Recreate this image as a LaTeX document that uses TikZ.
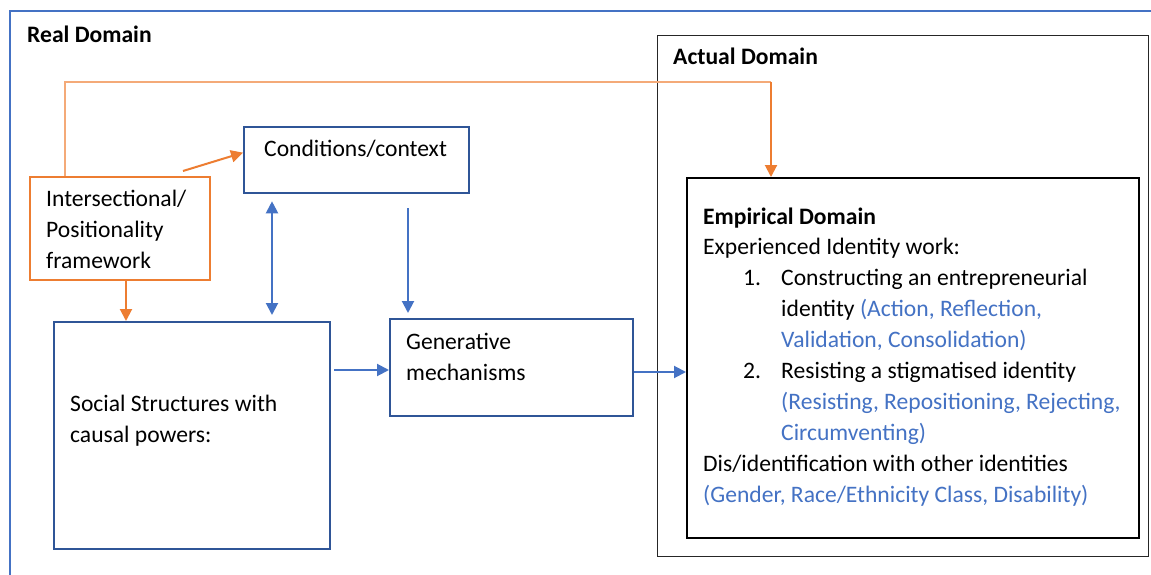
\documentclass[tikz,border=0pt]{standalone}
\usepackage{fontspec}
\setmainfont{Carlito}
\usetikzlibrary{arrows.meta,calc}
\definecolor{boxblue}{RGB}{47,85,151}
\definecolor{arrowblue}{RGB}{68,114,196}
\definecolor{frameblue}{RGB}{68,114,196}
\definecolor{orangeline}{RGB}{237,125,49}
\definecolor{paleorange}{RGB}{244,170,120}
\definecolor{txtblue}{RGB}{68,114,196}
\newcommand\bodyfont{\fontsize{23.6}{31}\selectfont}

\begin{document}
\begin{tikzpicture}[x=1pt,y=-1pt,
  bluebox/.style={draw=boxblue, line width=2.3pt, inner sep=0pt, anchor=north west},
  orangebox/.style={draw=orangeline, line width=2.1pt, inner sep=0pt, anchor=north west},
  domainbox/.style={draw=black!85, line width=1pt, inner sep=0pt, anchor=north west},
  empbox/.style={draw=black, line width=2.3pt, inner sep=0pt, anchor=north west},
  textblock/.style={inner sep=0pt, anchor=north west, align=left, font=\bodyfont},
  oneline/.style={inner sep=0pt, anchor=base west, font=\bodyfont},
  headline/.style={inner sep=0pt, anchor=base west, font={\bodyfont\bfseries}},
  bluearrow/.style={draw=arrowblue, line width=2pt, -{Triangle[length=12pt,width=12pt]}},
  bluedouble/.style={draw=arrowblue, line width=2pt, {Triangle[length=12pt,width=12pt]}-{Triangle[length=12pt,width=12pt]}},
  orangearrow/.style={draw=orangeline, line width=2pt, -{Triangle[length=12pt,width=12pt]}},
  paleline/.style={draw=paleorange, line width=1.2pt}
]
\useasboundingbox (0,0) rectangle (1151,575);
\fill[white] (0,0) rectangle (1151,575);

% outer frame of the real domain (runs off the right and bottom edges)
\draw[frameblue, line width=1.3pt] (1160,11) -- (10,11) -- (10,585);

% boxes
\node[domainbox, minimum width=491pt, minimum height=521pt] (actual) at (657,35) {};
\node[empbox, minimum width=452pt, minimum height=360pt] (emp) at (686,177) {};
\node[bluebox, minimum width=225pt, minimum height=66pt] (cond) at (243,126) {};
\node[bluebox, minimum width=243pt, minimum height=97pt] (gen) at (389,318) {};
\node[bluebox, minimum width=276pt, minimum height=227pt] (social) at (53,321) {};
\node[orangebox, minimum width=180pt, minimum height=103pt] (inter) at (29,176) {};

% titles and texts
\node[headline] (realtitle) at (27,43) {Real Domain};
\node[headline] (actualtitle) at (673,65) {Actual Domain};
\node[oneline] (condtext) at (264,157) {Conditions/context};
\node[textblock] (intertext) at (46,184.3) {\strut Intersectional/\\Positionality\\framework};
\node[textblock] (gentext) at (406,327.3) {\strut Generative\\mechanisms};
\node[textblock] (socialtext) at (70,389.3) {\strut Social Structures with\\causal powers:};

\node[textblock] (emphead) at (703,202.8) {\strut\textbf{Empirical Domain}\\[-1pt]Experienced Identity work:};
\node[oneline] (num1) at (743,285) {1.};
\node[textblock] (item1) at (781,263.3) {\strut Constructing an entrepreneurial\\identity \textcolor{txtblue}{(Action, Reflection,}\\\textcolor{txtblue}{Validation, Consolidation)}};
\node[oneline] (num2) at (743,378) {2.};
\node[textblock] (item2) at (781,356.3) {\strut Resisting a stigmatised identity\\\textcolor{txtblue}{(Resisting, Repositioning, Rejecting,}\\\textcolor{txtblue}{Circumventing)}};
\node[textblock] (otherid) at (703,449.3) {\strut Dis/identification with other identities\\\textcolor{txtblue}{(Gender, Race/Ethnicity Class, Disability)}};

% helper coordinates for connector positions
\coordinate (ox) at (65,0);
\coordinate (bend) at (771,82);
\coordinate (odown) at (126,0);
\coordinate (xa) at (272,0);
\coordinate (xb) at (408,0);
\coordinate (yin) at (0,370);
\coordinate (yout) at (0,372);
\coordinate (ostart) at (183,171);

% orange connectors
\draw[paleline] (inter.north -| ox) |- (bend);
\draw[orangearrow] (bend) -- (emp.north -| bend);
\draw[orangearrow] (ostart) -- ($(cond.north west)!0.39!(cond.south west)$);
\draw[orangearrow] (inter.south -| odown) -- (social.north -| odown);

% blue connectors
\draw[bluedouble, shorten <=7pt, shorten >=6pt] (cond.south -| xa) -- (social.north -| xa);
\draw[bluearrow, shorten <=14pt, shorten >=5pt] (cond.south -| xb) -- (gen.north -| xb);
\draw[bluearrow, shorten <=3pt] (social.east |- yin) -- (gen.west |- yin);
\draw[bluearrow] (gen.east |- yout) -- (emp.west |- yout);
\end{tikzpicture}
\end{document}
